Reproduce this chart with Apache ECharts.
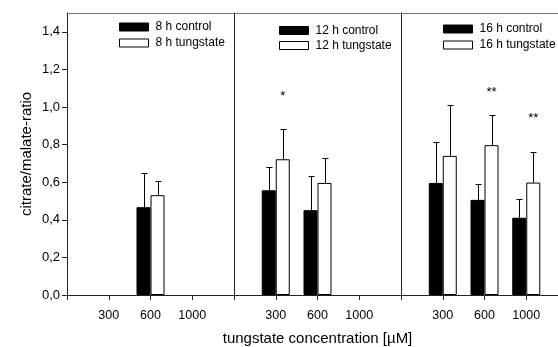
<!DOCTYPE html>
<html>
<head>
<meta charset="utf-8">
<script src="https://cdn.jsdelivr.net/npm/echarts@6/dist/echarts.min.js"></script>
<style>
  html, body { margin: 0; padding: 0; background: #fff; }
  #chart { width: 558px; height: 347px; }
</style>
</head>
<body>
<div id="chart"></div>
<script>
// tungstate concentrations (µM) on each panel's x axis
const concentrations = ['300', '600', '1000'];
const yTicks = [0, 0.2, 0.4, 0.6, 0.8, 1.0, 1.2, 1.4];

// citrate/malate ratio, mean and SD per concentration (null = not measured)
const control8h = [null, 0.467, null];
const controlSd8h = [null, 0.181, null];
const tungstate8h = [null, 0.531, null];
const tungstateSd8h = [null, 0.076, null];

const control12h = [0.557, 0.451, null];
const controlSd12h = [0.126, 0.182, null];
const tungstate12h = [0.722, 0.596, null];
const tungstateSd12h = [0.163, 0.131, null];

const control16h = [0.596, 0.506, 0.411];
const controlSd16h = [0.217, 0.083, 0.098];
const tungstate16h = [0.740, 0.797, 0.598];
const tungstateSd16h = [0.271, 0.159, 0.163];

// significance marks above the tungstate bars and the ratio level they sit at
const sig12h = ['*', '', ''];
const sigLevel12h = [1.055, null, null];
const sig16h = ['', '**', '**'];
const sigLevel16h = [null, 1.075, 0.94];

const panels = [
  { time: '8 h',  control: control8h,  controlSd: controlSd8h,  tungstate: tungstate8h,  tungstateSd: tungstateSd8h,  sig: null,   sigLevel: null },
  { time: '12 h', control: control12h, controlSd: controlSd12h, tungstate: tungstate12h, tungstateSd: tungstateSd12h, sig: sig12h, sigLevel: sigLevel12h },
  { time: '16 h', control: control16h, controlSd: controlSd16h, tungstate: tungstate16h, tungstateSd: tungstateSd16h, sig: sig16h, sigLevel: sigLevel16h }
];

const FONT = "'Liberation Sans', Arial, sans-serif";
const BAR_W = 14;
const axisCats = [''].concat(concentrations, ['']);
const pad = arr => [null].concat(arr, [null]);

const gridLeft = [67, 234, 401];
const gridW = 167;
const legendPos = [
  { left: 119, top: 21, gap: 4 },
  { left: 279, top: 24.5, gap: 3 },
  { left: 443, top: 23, gap: 4 }
];

function errorBars(offset) {
  return function (params, api) {
    const i = api.value(0), m = api.value(1), sd = api.value(2);
    const base = api.coord([i, m]);
    const top = api.coord([i, m + sd]);
    const x = Math.round(base[0] + offset) + 0.5;
    const yt = Math.round(top[1]) + 0.5;
    return {
      type: 'group',
      children: [
        { type: 'line', shape: { x1: x, y1: base[1], x2: x, y2: yt }, style: { stroke: '#000', lineWidth: 1 } },
        { type: 'line', shape: { x1: x - 3, y1: yt, x2: x + 3, y2: yt }, style: { stroke: '#000', lineWidth: 1 } }
      ]
    };
  };
}

function sigMarks(params, api) {
  const i = api.value(0), lvl = api.value(1);
  const p = api.coord([i, lvl]);
  return {
    type: 'text',
    x: p[0] + BAR_W / 2,
    y: p[1],
    style: { text: api.value(2), fill: '#000', font: '13px ' + FONT, align: 'center', verticalAlign: 'middle' }
  };
}

const grid = [], xAxis = [], yAxis = [], series = [], legend = [];

panels.forEach((p, k) => {
  grid.push({ left: gridLeft[k], top: 13, width: gridW, height: 282, containLabel: false, outerBoundsMode: 'none' });

  // bottom category axis
  xAxis.push({
    type: 'category', gridIndex: k, data: axisCats, boundaryGap: false, position: 'bottom',
    axisLine: { onZero: false, lineStyle: { color: '#222', width: 1 } },
    axisTick: { show: true, length: 5, interval: 0, lineStyle: { color: '#222' } },
    axisLabel: { interval: 0, color: '#000', fontSize: 12.5, fontFamily: FONT, margin: 14 },
    name: k === 1 ? 'tungstate concentration [µM]' : '',
    nameLocation: 'middle', nameGap: 36,
    nameTextStyle: { color: '#000', fontSize: 15, fontFamily: FONT }
  });
  // top frame line
  xAxis.push({
    type: 'category', gridIndex: k, data: axisCats, boundaryGap: false, position: 'top',
    axisLine: { onZero: false, lineStyle: { color: '#777', width: 1 } },
    axisTick: { show: false }, axisLabel: { show: false }
  });

  yAxis.push({
    type: 'value', gridIndex: k, min: 0, max: 1.5,
    splitLine: { show: false },
    axisLine: { show: true, onZero: false, lineStyle: { color: '#222', width: 1 } },
    axisTick: { show: k === 0, length: 5, customValues: yTicks, lineStyle: { color: '#222' } },
    axisLabel: {
      show: k === 0, customValues: yTicks, color: '#000', fontSize: 13, fontFamily: FONT, margin: 7,
      formatter: v => v.toFixed(1).replace('.', ',')
    },
    name: k === 0 ? 'citrate/malate-ratio' : '',
    nameLocation: 'middle', nameGap: 33,
    nameTextStyle: { color: '#000', fontSize: 15, fontFamily: FONT }
  });

  const ctlName = p.time + ' control';
  const tunName = p.time + ' tungstate';
  const xi = 2 * k;

  series.push({
    name: ctlName, type: 'bar', xAxisIndex: xi, yAxisIndex: k,
    data: pad(p.control), barWidth: BAR_W, barGap: '0%',
    itemStyle: { color: '#000', borderColor: '#000', borderWidth: 1 },
    silent: true
  });
  series.push({
    name: tunName, type: 'bar', xAxisIndex: xi, yAxisIndex: k,
    data: pad(p.tungstate), barWidth: BAR_W, barGap: '0%',
    itemStyle: { color: '#fff', borderColor: '#000', borderWidth: 1 },
    silent: true
  });

  const ctlErr = [], tunErr = [];
  concentrations.forEach((c, j) => {
    if (p.control[j] != null) ctlErr.push([j + 1, p.control[j], p.controlSd[j]]);
    if (p.tungstate[j] != null) tunErr.push([j + 1, p.tungstate[j], p.tungstateSd[j]]);
  });
  series.push({ type: 'custom', xAxisIndex: xi, yAxisIndex: k, data: ctlErr, renderItem: errorBars(-BAR_W / 2), silent: true, z: 3 });
  series.push({ type: 'custom', xAxisIndex: xi, yAxisIndex: k, data: tunErr, renderItem: errorBars(BAR_W / 2), silent: true, z: 3 });

  if (p.sig) {
    const marks = [];
    p.sig.forEach((s, j) => { if (s) marks.push([j + 1, p.sigLevel[j], s]); });
    series.push({ type: 'custom', xAxisIndex: xi, yAxisIndex: k, data: marks, renderItem: sigMarks, silent: true, z: 4 });
  }

  legend.push({
    orient: 'vertical', left: legendPos[k].left, top: legendPos[k].top,
    itemGap: legendPos[k].gap, itemWidth: 29, itemHeight: 8, icon: 'rect',
    selectedMode: false, padding: 0,
    textStyle: { color: '#000', fontSize: 12, fontFamily: FONT, padding: [0, 0, 0, 2] },
    data: [
      { name: ctlName, itemStyle: { color: '#000', borderColor: '#000', borderWidth: 1 } },
      { name: tunName, itemStyle: { color: '#fff', borderColor: '#000', borderWidth: 1 } }
    ]
  });
});

const chart = echarts.init(document.getElementById('chart'), null, { renderer: 'canvas' });
chart.setOption({
  animation: false,
  backgroundColor: '#fff',
  grid, xAxis, yAxis, series, legend
});
</script>
</body>
</html>
